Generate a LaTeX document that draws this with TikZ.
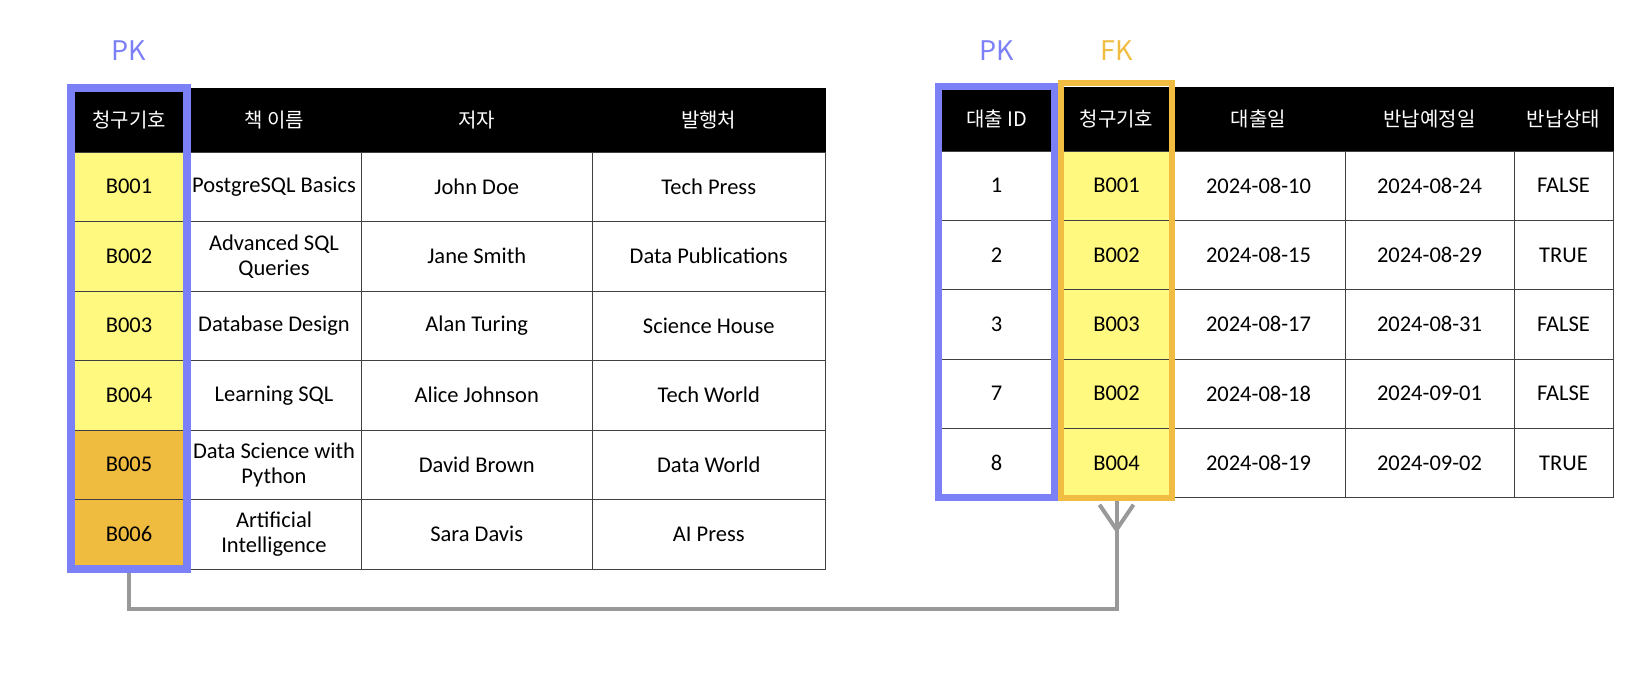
\documentclass[tikz,border=0pt]{standalone}
\usepackage{fontspec}
\setmainfont{Carlito}
\newfontfamily\krfont{Noto Sans CJK KR}
\usetikzlibrary{fit,calc}
\definecolor{pkblue}{RGB}{124,128,246}
\definecolor{fkorange}{RGB}{240,189,66}
\definecolor{keyyellow}{RGB}{255,249,128}
\definecolor{keyorange}{RGB}{240,188,64}
\definecolor{linkgray}{RGB}{153,153,153}

\begin{document}
\begin{tikzpicture}[
	x=1pt, y=-1pt,
	cell/.style={ rectangle, draw=black!75, line width=0.9pt, inner sep=0pt, outer sep=0pt, align=center, font=\fontsize{22.5}{25}\selectfont },
	head/.style={ cell, draw=black, fill=black, text=white, font=\krfont\fontsize{20}{24}\selectfont },
	keyframe/.style={ rectangle, draw=#1, line width=7pt, inner sep=0pt },
	keylabel/.style={ text=#1, font=\krfont\fontsize{27}{30}\selectfont },
	link/.style={ draw=linkgray, line width=4pt }
]
\useasboundingbox (0,0) rectangle (1640,692);

% book table
\foreach \c/\xc/\w/\txt in {1/129/116/청구기호, 2/274/174/책 이름, 3/476.75/231.5/저자, 4/708.75/232.5/발행처}
	\node at (\xc,120) (book-0-\c) [head, minimum width=\w pt, minimum height=64pt] {\txt};
\foreach \r/\code/\title/\auth/\pub/\tone in {
	1/B001/PostgreSQL Basics/John Doe/Tech Press/keyyellow,
	2/B002/{Advanced SQL\\Queries}/Jane Smith/Data Publications/keyyellow,
	3/B003/Database Design/Alan Turing/Science House/keyyellow,
	4/B004/Learning SQL/Alice Johnson/Tech World/keyyellow,
	5/B005/{Data Science with\\Python}/David Brown/Data World/keyorange,
	6/B006/{Artificial\\Intelligence}/Sara Davis/AI Press/keyorange}
{
	\pgfmathsetmacro\yc{152+(\r-0.5)*69.5}
	\node at (129,\yc) (book-\r-1) [cell, fill=\tone, minimum width=116pt, minimum height=69.5pt] {\code};
	\node at (274,\yc) (book-\r-2) [cell, minimum width=174pt, minimum height=69.5pt] {\title};
	\node at (476.75,\yc) (book-\r-3) [cell, minimum width=231.5pt, minimum height=69.5pt] {\auth};
	\node at (708.75,\yc) (book-\r-4) [cell, minimum width=232.5pt, minimum height=69.5pt] {\pub};
}

% loan table
\foreach \c/\xc/\w/\txt in {1/996.5/116/대출 ID, 2/1116.5/111/청구기호, 3/1258.5/173/대출일, 4/1429.5/169/반납예정일, 5/1563.5/99/반납상태}
	\node at (\xc,119) (loan-0-\c) [head, minimum width=\w pt, minimum height=64pt] {\txt};
\draw[black, line width=0pt, fill=black] (loan-0-1.north east) rectangle (loan-0-2.south west);
\foreach \r/\id/\code/\out/\due/\state in {
	1/1/B001/2024-08-10/2024-08-24/FALSE,
	2/2/B002/2024-08-15/2024-08-29/TRUE,
	3/3/B003/2024-08-17/2024-08-31/FALSE,
	4/7/B002/2024-08-18/2024-09-01/FALSE,
	5/8/B004/2024-08-19/2024-09-02/TRUE}
{
	\pgfmathsetmacro\yc{151+(\r-0.5)*69.34}
	\node at (996.5,\yc) (loan-\r-1) [cell, minimum width=116pt, minimum height=69.34pt] {\id};
	\node at (1116.5,\yc) (loan-\r-2) [cell, fill=keyyellow, minimum width=111pt, minimum height=69.34pt] {\code};
	\node at (1258.5,\yc) (loan-\r-3) [cell, minimum width=173pt, minimum height=69.34pt] {\out};
	\node at (1429.5,\yc) (loan-\r-4) [cell, minimum width=169pt, minimum height=69.34pt] {\due};
	\node at (1563.5,\yc) (loan-\r-5) [cell, minimum width=99pt, minimum height=69.34pt] {\state};
}

% key frames and tags
\node [keyframe=pkblue, line width=8pt, fit=(book-0-1)(book-6-1)] (pkbook) {};
\node [keyframe=pkblue, fit=(loan-0-1)(loan-5-1)] (pkloan) {};
\node [keyframe=fkorange, line width=6pt, fit={($(loan-0-2.north west)+(0,-4)$) (loan-5-2.south east)}] (fkloan) {};
\node at (pkbook.north |- 0,51) (pkbooktag) [keylabel=pkblue] {PK};
\node at (pkloan.north |- 0,51) (pkloantag) [keylabel=pkblue] {PK};
\node at (fkloan.north |- 0,51) (fkloantag) [keylabel=fkorange] {FK};

% one-to-many link
\draw[link] (pkbook.south) -- ++(0,36) -| (fkloan.south);
\draw[link, line join=round] ([xshift=-17pt,yshift=-4pt]fkloan.south) -- ([yshift=-29pt]fkloan.south) -- ([xshift=17pt,yshift=-4pt]fkloan.south);

\end{tikzpicture}
\end{document}
